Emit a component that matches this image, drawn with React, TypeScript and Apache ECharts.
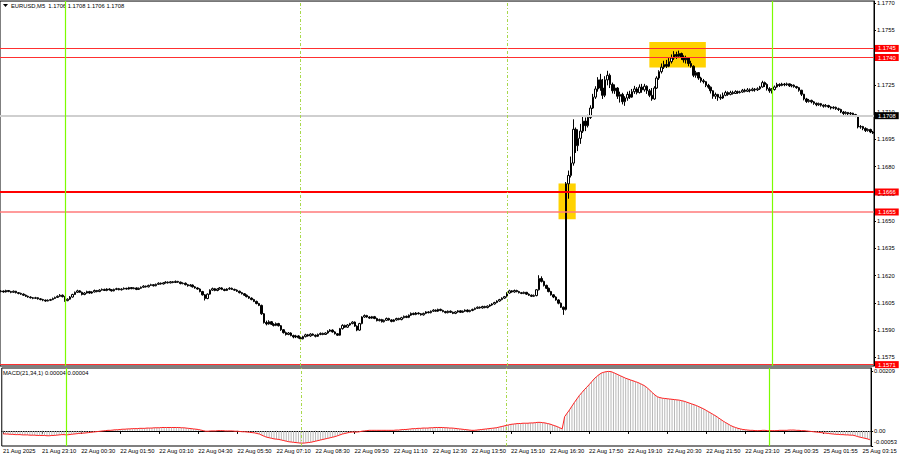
import React, { useEffect, useRef } from 'react';
import * as echarts from 'echarts';

// Prices are stored in pips above BASE (1 pip = 0.0001)
const BASE = 1.15;
const PIP = 0.0001;
const firstOpen = 111.2;

const closes = [
  111.5, 111, 111.8, 111.2, 110.8, 111.4, 110.6, 110.2, 109.8, 109.2,
  108.6, 108.2, 107.8, 107.5, 107.8, 107.2, 106.8, 106.5, 106, 106.4,
  106.8, 107.4, 108, 108.6, 109.2, 108.4, 106.2, 107, 108.2, 109.6,
  110.8, 111.6, 110.8, 109.6, 110.4, 111.2, 110.4, 111, 111.8, 111.2,
  112, 112.4, 111.8, 112.6, 112.2, 111.6, 112.4, 112.8, 112.2, 112.6,
  113, 112.6, 113.4, 112.8, 113.2, 112.4, 113, 113.6, 114.2, 113.8,
  114.6, 115, 114.4, 115.2, 115.8, 115.4, 116, 116.4, 116, 116.6,
  116.2, 116.8, 116.4, 115.6, 115.8, 115, 114.4, 114.8, 113.8, 113.2,
  112.6, 111.2, 109.4, 107.4, 109.8, 112, 112.8, 111.8, 112.6, 113.2,
  112.4, 111.8, 112.6, 113, 112.4, 112, 111.4, 110.6, 110, 109.2,
  108.4, 107.6, 106.8, 105.8, 104.6, 103.6, 99, 94.2, 93.4, 94.6,
  93.2, 92.6, 93.6, 92.4, 90.2, 88.6, 87.6, 88.4, 87, 86.2,
  86.8, 85.8, 85.2, 86.4, 87.4, 86.8, 87.8, 87.2, 86.6, 87.6,
  88.2, 87.6, 88.4, 89.4, 90, 89, 88, 87.2, 90.8, 92.6,
  91.6, 92.8, 93.6, 94.4, 92.2, 90, 93.6, 97.2, 98, 97.2,
  96.6, 97.4, 96.4, 95.2, 95.8, 94.6, 95.4, 96.4, 95.6, 94.8,
  95.6, 96.4, 95.8, 96.8, 97.6, 97, 98.2, 99.2, 98.6, 99.4,
  99, 98.4, 99.2, 100, 99.6, 100.4, 101, 100.4, 101.4, 100.8,
  100.2, 99.6, 100.4, 99.8, 99.2, 100, 100.6, 99.8, 100.4, 101,
  100.2, 100.8, 101.4, 102, 102.6, 102.2, 103, 102.4, 103.2, 103.8,
  104.4, 105.2, 106, 106.8, 107.6, 108.4, 110.4, 111.6, 111, 111.8,
  111.2, 110.6, 110.2, 110.8, 109.8, 109.2, 108.6, 109, 112.2, 118.4,
  116.8, 114.6, 113, 111.2, 109.4, 108.2, 106.6, 104.8, 102.6, 101.4,
  170.5, 175.1, 181.9, 200.5, 191.5, 195.5, 199.5, 205, 202.5, 207,
  212.2, 218.2, 222.7, 227.7, 223.2, 219.2, 227.7, 230.2, 225.2, 221.7,
  223.2, 218.7, 219.7, 215.7, 217.7, 219.7, 218.2, 221.2, 222.7, 220.7,
  223.7, 222.2, 224.2, 221.7, 219.2, 217.2, 223.2, 228.7, 232.2, 234.7,
  236.2, 235.2, 237.7, 239.7, 241.7, 240.7, 242.2, 240.2, 238.7, 239.7,
  236.7, 235.2, 230.2, 231.7, 228.7, 227.2, 226.7, 224.7, 223.7, 221.7,
  218.7, 219.7, 218.2, 217.7, 219.2, 220.7, 219.7, 220.7, 220.2, 221.2,
  220.7, 221, 222, 221.4, 222.2, 221.8, 222.6, 222.2, 222.8, 223.8,
  226.2, 225.2, 222.8, 221.7, 222.4, 223.8, 225.2, 224.6, 225.4, 225,
  225.5, 224.4, 224.8, 224, 223.4, 222, 219.8, 217.2, 215.8, 216.4,
  215.6, 214.8, 214, 214.6, 213.8, 213.2, 213.6, 212.8, 212.2, 212.6,
  211.8, 211.4, 210, 209.2, 209.8, 209, 209.4, 208.6, 207.8, 201.8,
  202, 201, 199.8, 200.4, 199, 198.4,
];

const highs = [
  112, 111.8, 112.2, 112, 111.6, 111.8, 111.6, 110.9, 110.6, 110.2,
  109.6, 109, 108.6, 108.2, 108.3, 108.1, 107.6, 107.2, 106.8, 106.9,
  107.2, 107.9, 108.4, 109.1, 109.8, 109.6, 108.8, 107.5, 108.7, 110,
  111.2, 112.2, 112, 111.2, 110.9, 111.7, 111.6, 111.4, 112.3, 112.1,
  112.5, 112.9, 112.8, 113, 113, 112.6, 112.8, 113.3, 113.2, 113,
  113.5, 113.3, 113.8, 113.7, 113.6, 113.5, 113.4, 114, 114.7, 114.5,
  115, 115.5, 115.3, 115.6, 116.3, 116.2, 116.4, 116.9, 116.8, 117,
  117, 117.3, 117.1, 116.7, 116.3, 116.2, 115.4, 115.3, 115.1, 114.2,
  113.6, 113, 111.6, 109.8, 110.2, 112.4, 113.4, 113.2, 113, 113.7,
  113.6, 112.8, 113, 113.6, 113.4, 112.8, 112.4, 111.7, 111, 110.4,
  109.6, 108.8, 108, 107.2, 106.2, 105, 104, 99.4, 95.2, 95.4,
  95, 93.8, 94.2, 94, 92.8, 90.6, 89.2, 88.9, 88.8, 87.5,
  87.4, 87.2, 86.3, 86.9, 88, 87.9, 88.3, 88.2, 87.6, 88.1,
  88.7, 88.6, 88.8, 89.9, 90.5, 90.4, 89.4, 88.4, 91.2, 93.2,
  93, 93.3, 94, 94.9, 94.8, 92.6, 94, 97.6, 98.6, 98.4,
  97.6, 97.8, 97.8, 96.8, 96.3, 96.2, 95.8, 96.9, 96.8, 96,
  96, 96.8, 96.8, 97.3, 98, 98, 98.6, 99.7, 99.6, 99.9,
  99.8, 99.4, 99.6, 100.4, 100.4, 100.8, 101.5, 101.4, 101.8, 101.8,
  101.2, 100.6, 100.8, 100.8, 100.2, 100.4, 101, 100.9, 100.8, 101.4,
  101.4, 101.2, 101.8, 102.4, 103, 103, 103.4, 103.4, 103.6, 104.2,
  104.8, 105.6, 106.4, 107.2, 108, 108.8, 110.8, 112.2, 112, 112.3,
  112.2, 111.6, 111, 111.2, 111, 110.2, 109.6, 109.6, 112.6, 120.2,
  119.6, 117.2, 115, 113.4, 111.6, 109.8, 108.6, 107, 105.2, 103,
  171.5, 177.8, 185.5, 206, 201.5, 200.5, 203.5, 208.2, 207, 208.5,
  213.7, 220, 224.2, 229.2, 231, 228.2, 229.7, 232.7, 231.2, 226.2,
  225.2, 223.7, 221.2, 220.6, 218.7, 221.2, 221.7, 222.7, 224.4, 223.7,
  225.2, 225.5, 225.5, 224.7, 222.7, 223.2, 224.2, 229.7, 233, 236.7,
  238.2, 238.7, 239.7, 241.7, 243.5, 243.2, 243.8, 242.7, 241.2, 241,
  240.2, 238.2, 235.7, 232.7, 232, 229.4, 228.2, 227, 225.5, 224,
  222, 220.7, 220, 219.7, 220.7, 221.7, 221.4, 221.7, 221.7, 222,
  221.8, 221.7, 222.7, 222.8, 223.2, 223, 223.4, 223.2, 223.6, 224.4,
  227.2, 226.8, 225.8, 223.7, 223.2, 224.6, 226.1, 225.8, 226.1, 226,
  226.2, 225.6, 225.4, 225.2, 224.4, 223.8, 222.2, 220, 217.8, 217.2,
  216.8, 216, 215.2, 215.2, 215, 214.2, 214.4, 214, 213.2, 213.2,
  213, 212.4, 211.8, 210.6, 210.4, 210, 210, 209.6, 209, 208,
  202.8, 202.4, 201.6, 201, 200.8, 199.6,
];

const lows = [
  110.8, 110.6, 110.7, 110.9, 110.3, 110.6, 110.2, 109.7, 109.4, 108.8,
  108.2, 107.8, 107.4, 107, 107.2, 106.8, 106.4, 105.9, 105.6, 105.8,
  106, 106.5, 107.1, 107.7, 108.3, 108, 105.6, 105.9, 106.7, 107.9,
  109.3, 110.4, 110.5, 109.1, 109.2, 110.1, 110, 110, 110.7, 110.8,
  110.9, 111.7, 111.5, 111.4, 111.8, 111.2, 111.3, 112, 111.9, 111.8,
  112.3, 112.3, 112.3, 112.5, 112.5, 112, 112.1, 112.7, 113.2, 113.4,
  113.5, 114.3, 114, 114.1, 114.9, 115, 115.1, 115.7, 115.6, 115.7,
  115.8, 115.9, 116, 115.2, 115.2, 114.6, 113.9, 114, 113.4, 112.8,
  112.2, 110.8, 109, 106.3, 107, 109.5, 111.6, 111.4, 111.4, 112.3,
  112, 111.4, 111.5, 112.2, 112.1, 111.6, 111, 110.2, 109.6, 108.8,
  108, 107.2, 106.4, 105.4, 104.2, 103.2, 98.4, 93.6, 92.6, 93,
  92.8, 92, 92.2, 92, 89.6, 88.1, 87, 87.2, 86.6, 85.5,
  85.6, 85.4, 84.4, 84.9, 86, 86.4, 86.3, 86.9, 86, 86.2,
  87.2, 87.2, 87.3, 88, 89, 88.6, 87.6, 86.8, 86.9, 90.3,
  91.2, 91.2, 92.4, 93.2, 91.8, 89.4, 89.6, 93.2, 96.8, 96.8,
  96.2, 96.2, 96, 94.8, 94.8, 94.2, 94.2, 95, 95.2, 94.3,
  94.4, 95.2, 95.4, 95.4, 96.4, 96.6, 96.6, 97.8, 98.2, 98.2,
  98.6, 98, 98, 98.8, 99.2, 99.2, 100, 100, 100, 100.4,
  99.8, 99.2, 99.2, 99.4, 98.8, 98.8, 99.6, 99.4, 99.4, 100,
  99.8, 99.8, 100.4, 101, 101.6, 101.8, 101.8, 102, 102, 102.8,
  103.4, 104, 104.8, 105.6, 106.4, 107.2, 108, 110, 110.6, 110.6,
  110.8, 110.2, 109.8, 109.8, 109.4, 108.8, 108.2, 108.2, 108.6, 111.8,
  116.2, 114, 112.6, 110.8, 109, 107.6, 106.2, 104.2, 102.2, 98.4,
  100.8, 162.3, 174, 180.5, 187.5, 188.5, 192.5, 198.5, 199.5, 201.5,
  206.2, 211.7, 217.2, 221.2, 221.7, 217.2, 218.2, 224.7, 223.2, 220.2,
  220, 217.2, 215.2, 214.2, 213.4, 216.2, 217.2, 217.8, 220, 219.7,
  220.2, 220.6, 221.2, 220, 218.2, 216.2, 216.7, 222.7, 227.7, 231.2,
  233.7, 234.2, 234.7, 236.7, 238.7, 239.2, 239.7, 238.7, 237.2, 236.7,
  235.2, 234.4, 229.2, 228.9, 227.7, 226.2, 225.7, 223.7, 222.8, 220.2,
  217.3, 217.2, 216.2, 216.7, 217.2, 218.7, 218.9, 219.2, 219.6, 220,
  220, 220.2, 220.6, 220.8, 221, 220.8, 221.4, 221.2, 221.6, 222.2,
  223.4, 223.8, 221.8, 220.6, 220.2, 221.8, 223.4, 223.8, 224.2, 224.2,
  224.4, 223.8, 223.6, 223.4, 222.8, 221.2, 218.8, 216.4, 215, 215.2,
  214.8, 214, 213.2, 213.4, 213, 212.4, 212.6, 212.2, 211.4, 211.6,
  211.2, 210.6, 209.4, 208.4, 208.6, 208.2, 208.4, 207.9, 207.2, 201,
  200.8, 200, 199, 199.2, 198.4, 197.9,
];

// MACD(21,34,1) main value, in units of 0.00001
const macdPoints = [
  -10, -11, -11, -12, -12, -13, -13, -13, -14, -14,
  -14, -15, -15, -15, -16, -16, -16, -16, -17, -17,
  -16, -16, -15, -14, -13, -13, -14, -13, -12, -11,
  -10, -9, -8, -8, -7, -6, -5, -4, -3, -2,
  -1, 0, 1, 2, 2, 3, 4, 4, 5, 6,
  6, 7, 7, 8, 8, 8, 9, 9, 9, 10,
  10, 10, 11, 11, 11, 12, 12, 12, 12, 12,
  12, 12, 12, 11, 11, 10, 9, 8, 7, 6,
  5, 3, 1, -1, -1, 0, 0, 0, 1, 1,
  1, 0, 0, 0, 0, -1, -1, -2, -3, -3,
  -4, -5, -6, -7, -9, -11, -15, -19, -22, -24,
  -26, -28, -29, -30, -32, -34, -36, -38, -39, -40,
  -41, -42, -43, -43, -42, -41, -40, -38, -36, -34,
  -32, -30, -28, -26, -24, -22, -20, -17, -14, -11,
  -9, -7, -5, -4, -4, -4, -3, -1, 0, 1,
  2, 2, 2, 2, 2, 2, 2, 2, 2, 2,
  2, 3, 3, 4, 5, 5, 6, 7, 8, 8,
  9, 9, 10, 10, 10, 11, 11, 12, 12, 12,
  12, 11, 11, 10, 10, 9, 8, 7, 6, 5,
  4, 3, 2, 2, 3, 4, 5, 6, 7, 8,
  9, 10, 11, 13, 15, 17, 19, 21, 23, 24,
  25, 26, 26, 27, 27, 27, 28, 28, 29, 30,
  30, 29, 28, 26, 24, 21, 18, 15, 11, 7,
  50, 62, 74, 87, 100, 112, 124, 134, 144, 153,
  162, 172, 182, 190, 197, 203, 206, 208, 209, 208,
  205, 201, 197, 193, 189, 185, 182, 179, 176, 173,
  170, 166, 162, 157, 150, 142, 134, 126, 120, 117,
  115, 114, 113, 112, 111, 110, 109, 108, 106, 104,
  101, 98, 95, 92, 89, 85, 81, 77, 72, 67,
  62, 57, 52, 46, 40, 34, 29, 24, 19, 15,
  12, 9, 7, 5, 4, 3, 2, 2, 1, 1,
  1, 2, 2, 1, 1, 1, 1, 1, 2, 2,
  2, 2, 3, 3, 3, 2, 2, 1, 1, 0,
  -1, -2, -3, -4, -5, -6, -7, -8, -9, -10,
  -11, -12, -12, -13, -13, -14, -14, -15, -15, -17,
  -20, -22, -24, -26, -28, -31,
];

const xTickLabels = [
  '21 Aug 2025', '21 Aug 23:10', '22 Aug 00:30', '22 Aug 01:50', '22 Aug 03:10',
  '22 Aug 04:30', '22 Aug 05:50', '22 Aug 07:10', '22 Aug 08:30', '22 Aug 09:50',
  '22 Aug 11:10', '22 Aug 12:30', '22 Aug 13:50', '22 Aug 15:10', '22 Aug 16:30',
  '22 Aug 17:50', '22 Aug 19:10', '22 Aug 20:30', '22 Aug 21:50', '22 Aug 23:10',
  '25 Aug 00:35', '25 Aug 01:55', '25 Aug 03:15',
];
const LABEL_EVERY = 16;

const priceTicks = [
  1.1575, 1.159, 1.1605, 1.162, 1.1635, 1.165, 1.1665,
  1.168, 1.1695, 1.171, 1.1725, 1.174, 1.1755, 1.177,
];
const macdTicks = [0.00209, 0, -0.00053];

const levelLines = [1.1745, 1.174, 1.1666, 1.1655, 1.1571];
const bidPrice = 1.1708;
const dayLines = ['22 Aug 00:00', '25 Aug 00:05'];
const sessionLines = ['22 Aug 08:00', '22 Aug 15:00'];
const zones = [
  { from: '22 Aug 16:45', to: '22 Aug 17:20', top: 1.16707, bottom: 1.1651 },
  { from: '22 Aug 19:50', to: '22 Aug 21:45', top: 1.17486, bottom: 1.17345 },
];
const headerText = 'EURUSD,M5  1.1706 1.1708 1.1706 1.1708';
const macdText = 'MACD(21,34,1) 0.00004 0.00004';

// --- derived tables for the library ---
const pad = (n: number) => String(n).padStart(2, '0');
const categories: string[] = closes.map((_, i) => {
  let day: number;
  let mins: number;
  if (i < 314) {
    const t = 21 * 60 + 50 + 5 * i;
    day = 21 + Math.floor(t / 1440);
    mins = t % 1440;
  } else {
    day = 25;
    mins = 5 + 5 * (i - 314);
  }
  return `${day} Aug ${pad(Math.floor(mins / 60))}:${pad(mins % 60)}`;
});
const px = (v: number) => +(BASE + v * PIP).toFixed(5);
const ohlc = closes.map((c, i) => {
  const o = i === 0 ? firstOpen : closes[i - 1];
  const h = Math.max(highs[i], o, c);
  const l = Math.min(lows[i], o, c);
  return [px(o), px(c), px(l), px(h)];
});
const macdVals = macdPoints.map((v) => +(v * 0.00001).toFixed(5));

const FONT = 'Liberation Sans, Arial, sans-serif';
const FS = 5.8;

const levelStyle = [
  { color: '#ff3030', width: 1 },
  { color: '#ff3030', width: 1 },
  { color: '#ff0000', width: 2 },
  { color: '#ff7a7a', width: 1.5 },
  { color: '#ff3030', width: 1 },
];

const tagLabel = (text: string, bg: string) => ({
  show: true,
  position: 'end',
  distance: 1,
  formatter: text,
  color: '#fff',
  backgroundColor: bg,
  padding: [1, 3, 0, 3],
  fontSize: FS,
  fontFamily: FONT,
});

const verticalMarks = [
  ...dayLines.map((d) => ({
    xAxis: d,
    lineStyle: { color: '#7cfc00', width: 1.2, type: 'solid' },
    label: { show: false },
  })),
  ...sessionLines.map((d) => ({
    xAxis: d,
    lineStyle: { color: '#a8d84a', width: 1, type: [3, 2, 1, 2] },
    label: { show: false },
  })),
];

const horizontalMarks = [
  {
    yAxis: bidPrice,
    lineStyle: { color: '#cfcfcf', width: 2, type: 'solid' },
    label: tagLabel(bidPrice.toFixed(4), '#000000'),
  },
  ...levelLines.map((p, k) => ({
    yAxis: p,
    lineStyle: { ...levelStyle[k], type: 'solid' },
    label: tagLabel(p.toFixed(4), '#ff0000'),
  })),
];

const option: any = {
  animation: false,
  backgroundColor: '#ffffff',
  textStyle: { fontFamily: FONT, fontSize: FS },
  grid: [
    { left: 0, width: 874, top: 0, height: 366, show: true, borderColor: '#000', borderWidth: 1 },
    { left: 0, width: 874, top: 368, height: 78, show: true, borderColor: '#000', borderWidth: 1 },
  ],
  xAxis: [
    { type: 'category', gridIndex: 0, data: categories, boundaryGap: true, show: false },
    {
      type: 'category',
      gridIndex: 1,
      data: categories,
      boundaryGap: true,
      axisLine: { show: true, lineStyle: { color: '#000', width: 1 } },
      axisTick: {
        show: true,
        alignWithLabel: true,
        length: 3,
        interval: (i: number) => i % LABEL_EVERY === 0,
        lineStyle: { color: '#000' },
      },
      axisLabel: {
        interval: (i: number) => i % LABEL_EVERY === 0,
        formatter: (v: string, i: number) => xTickLabels[i / LABEL_EVERY] ?? v,
        align: 'left',
        margin: 2,
        color: '#000',
        fontSize: FS,
        fontFamily: FONT,
      },
      splitLine: { show: false },
    },
  ],
  yAxis: [
    {
      type: 'value',
      gridIndex: 0,
      position: 'right',
      min: 1.157025,
      max: 1.177108,
      axisLine: { show: true, lineStyle: { color: '#000' } },
      axisTick: { show: true, length: 2, customValues: priceTicks, lineStyle: { color: '#000' } },
      axisLabel: {
        customValues: priceTicks,
        formatter: (v: number) => v.toFixed(4),
        margin: 3,
        color: '#000',
        fontSize: FS,
        fontFamily: FONT,
      },
      splitLine: { show: false },
    },
    {
      type: 'value',
      gridIndex: 1,
      position: 'right',
      min: -0.00053,
      max: 0.00221,
      axisLine: { show: true, lineStyle: { color: '#000' } },
      axisTick: { show: true, length: 2, customValues: macdTicks, lineStyle: { color: '#000' } },
      axisLabel: {
        customValues: macdTicks,
        formatter: (v: number) => {
          if (Math.abs(v) < 1e-9) return '0.00';
          if (v < 0) return '{b|' + v.toFixed(5) + '}';
          return v.toFixed(5);
        },
        rich: { b: { padding: [0, 0, 9, 0], fontSize: FS, color: '#000', fontFamily: FONT } },
        margin: 3,
        color: '#000',
        fontSize: FS,
        fontFamily: FONT,
      },
      splitLine: { show: false },
    },
  ],
  series: [
    {
      type: 'candlestick',
      xAxisIndex: 0,
      yAxisIndex: 0,
      data: ohlc,
      barWidth: 2,
      itemStyle: {
        color: '#ffffff',
        color0: '#000000',
        borderColor: '#000000',
        borderColor0: '#000000',
        borderWidth: 1,
      },
      markArea: {
        silent: true,
        itemStyle: { color: '#ffd200', opacity: 1 },
        data: zones.map((z) => [
          { xAxis: z.from, yAxis: z.top },
          { xAxis: z.to, yAxis: z.bottom },
        ]),
      },
    },
    {
      // carrier of the horizontal level lines and vertical time lines in the price pane
      type: 'line',
      xAxisIndex: 0,
      yAxisIndex: 0,
      data: [],
      symbol: 'none',
      z: 5,
      markLine: {
        silent: true,
        precision: 5,
        symbol: ['none', 'none'],
        data: [...horizontalMarks, ...verticalMarks],
      },
    },
    {
      type: 'bar',
      xAxisIndex: 1,
      yAxisIndex: 1,
      data: macdVals,
      barWidth: 1,
      itemStyle: { color: '#b8b8b8' },
    },
    {
      type: 'line',
      xAxisIndex: 1,
      yAxisIndex: 1,
      data: macdVals,
      symbol: 'none',
      lineStyle: { color: '#ff2020', width: 1 },
      markLine: { silent: true, precision: 5, symbol: ['none', 'none'], data: verticalMarks },
    },
  ],
  graphic: [
    { type: 'polygon', shape: { points: [[3, 4], [8, 4], [5.5, 7]] }, style: { fill: '#000' } },
    {
      type: 'text',
      x: 11,
      y: 3,
      style: { text: headerText, fill: '#000', fontSize: FS, fontFamily: FONT },
    },
    {
      type: 'text',
      x: 3,
      y: 370,
      style: { text: macdText, fill: '#000', fontSize: FS, fontFamily: FONT },
    },
  ],
};

export default function App() {
  const ref = useRef<HTMLDivElement>(null);
  useEffect(() => {
    if (!ref.current) return;
    const chart = echarts.init(ref.current, null, { renderer: 'svg' });
    chart.setOption(option);
    return () => chart.dispose();
  }, []);
  return (
    <div
      ref={ref}
      style={{ position: 'fixed', left: 0, top: 0, width: 900, height: 460, background: '#fff' }}
    />
  );
}
